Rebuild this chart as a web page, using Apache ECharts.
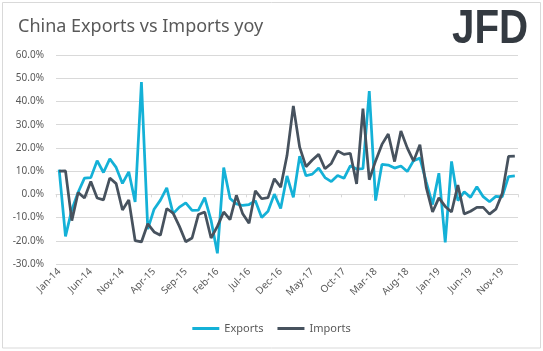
<!DOCTYPE html>
<html>
<head>
<meta charset="utf-8">
<title>China Exports vs Imports yoy</title>
<script src="https://cdn.jsdelivr.net/npm/echarts@6/dist/echarts.min.js"></script>
<style>
html, body { margin: 0; padding: 0; background: #fff; }
#main { width: 543px; height: 351px; }
</style>
</head>
<body>
<div id="main"></div>
<script>
// monthly categories, Jan-14 .. Jan-20
var months = [
	"Jan-14","Feb-14","Mar-14","Apr-14","May-14","Jun-14","Jul-14","Aug-14","Sep-14","Oct-14","Nov-14","Dec-14",
	"Jan-15","Feb-15","Mar-15","Apr-15","May-15","Jun-15","Jul-15","Aug-15","Sep-15","Oct-15","Nov-15","Dec-15",
	"Jan-16","Feb-16","Mar-16","Apr-16","May-16","Jun-16","Jul-16","Aug-16","Sep-16","Oct-16","Nov-16","Dec-16",
	"Jan-17","Feb-17","Mar-17","Apr-17","May-17","Jun-17","Jul-17","Aug-17","Sep-17","Oct-17","Nov-17","Dec-17",
	"Jan-18","Feb-18","Mar-18","Apr-18","May-18","Jun-18","Jul-18","Aug-18","Sep-18","Oct-18","Nov-18","Dec-18",
	"Jan-19","Feb-19","Mar-19","Apr-19","May-19","Jun-19","Jul-19","Aug-19","Sep-19","Oct-19","Nov-19","Dec-19",
	"Jan-20"
];

// yoy change, %
var exportsYoy = [
	10.6, -18.1, -6.6, 0.9, 7.0, 7.2, 14.5, 9.4, 15.3, 11.6, 4.7, 9.7,
	-3.3, 48.3, -15.0, -6.4, -2.5, 2.8, -8.3, -5.5, -3.7, -6.9, -6.8, -1.4,
	-11.2, -25.4, 11.5, -1.8, -4.1, -4.8, -4.4, -2.8, -10.0, -7.3, 0.1, -6.1,
	7.9, -1.3, 16.4, 8.0, 8.7, 11.3, 7.2, 5.5, 8.1, 6.9, 12.3, 10.9,
	11.1, 44.5, -2.7, 12.9, 12.6, 11.3, 12.2, 9.8, 14.5, 15.6, 5.4, -4.4,
	9.1, -20.7, 14.2, -2.7, 1.1, -1.3, 3.3, -1.0, -3.2, -0.9, -1.1, 7.6,
	7.9
];

var importsYoy = [
	10.0, 10.1, -11.3, 0.8, -1.6, 5.5, -1.6, -2.4, 7.0, 4.6, -6.7, -2.4,
	-19.9, -20.5, -12.7, -16.2, -17.6, -6.1, -8.1, -13.8, -20.4, -18.8, -8.7, -7.6,
	-18.8, -13.8, -7.6, -10.9, -0.4, -8.4, -12.5, 1.5, -1.9, -1.4, 6.7, 3.1,
	16.7, 38.1, 20.3, 11.9, 14.8, 17.2, 11.0, 13.3, 18.7, 17.2, 17.7, 4.5,
	36.9, 6.3, 14.4, 21.5, 26.0, 14.1, 27.3, 20.0, 14.3, 21.4, 3.0, -7.6,
	-1.5, -5.2, -7.6, 4.0, -8.5, -7.3, -5.6, -5.6, -8.5, -6.4, 0.3, 16.3,
	16.5
];

var seriesNames = ["Exports", "Imports"];

var textColor = "#595959",
	gridColor = "#d9d9d9";

var chart = echarts.init(document.getElementById('main'));

var option = {
	animation: false,
	backgroundColor: "#fff",
	title: {
		text: "China Exports vs Imports yoy",
		left: 13,
		top: 13,
		textStyle: {
			fontFamily: "Noto Sans",
			fontSize: 18,
			fontWeight: "normal",
			color: textColor
		}
	},
	graphic: [
		{
			// outer chart border
			type: "rect",
			shape: { x: 2.5, y: 2.5, width: 538, height: 345.5 },
			style: { fill: "none", stroke: gridColor, lineWidth: 1 },
			silent: true
		},
		{
			// logo
			type: "text",
			x: 452,
			y: 6,
			scaleX: 0.84,
			style: {
				text: "JFD",
				fontFamily: "Liberation Sans",
				fontWeight: "bold",
				fontSize: 48,
				verticalAlign: "top",
				fill: "#343a41"
			}
		}
	],
	legend: {
		bottom: 12,
		left: "center",
		icon: "rect",
		itemWidth: 27,
		itemHeight: 3,
		itemGap: 14,
		textStyle: { fontFamily: "Noto Sans", fontSize: 11, color: textColor },
		data: seriesNames
	},
	grid: {
		left: 56,
		right: 25,
		top: 55,
		bottom: 87,
		containLabel: false
	},
	xAxis: [
		{
			type: "category",
			data: months,
			boundaryGap: true,
			axisLine: { show: false, onZero: false },
			axisTick: { show: false },
			axisLabel: {
				interval: 4,
				rotate: 45,
				margin: 6,
				fontFamily: "Noto Sans",
				fontSize: 10,
				color: textColor
			},
			splitLine: { show: false }
		},
		{
			// axis line and ticks sitting on 0%
			type: "category",
			data: months,
			boundaryGap: true,
			position: "bottom",
			axisLine: { show: true, onZero: true, lineStyle: { color: gridColor, width: 1 } },
			axisTick: { show: true, interval: 4, length: 3, lineStyle: { color: gridColor } },
			axisLabel: { show: false },
			splitLine: { show: false }
		}
	],
	yAxis: {
		type: "value",
		min: -30,
		max: 60,
		interval: 10,
		axisLine: { show: false },
		axisTick: { show: false },
		splitLine: { lineStyle: { color: gridColor, width: 1 } },
		axisLabel: {
			margin: 12,
			fontFamily: "Noto Sans",
			fontSize: 10,
			color: textColor,
			formatter: function(v) {
				return v.toFixed(1) + "%";
			}
		}
	},
	series: [
		{
			name: seriesNames[0],
			type: "line",
			xAxisIndex: 0,
			data: exportsYoy,
			symbol: "none",
			color: "#14b1d7",
			lineStyle: { width: 2.75, color: "#14b1d7" }
		},
		{
			name: seriesNames[1],
			type: "line",
			xAxisIndex: 0,
			data: importsYoy,
			symbol: "none",
			color: "#47525e",
			lineStyle: { width: 2.75, color: "#47525e" }
		}
	]
};

chart.setOption(option);
</script>
</body>
</html>
